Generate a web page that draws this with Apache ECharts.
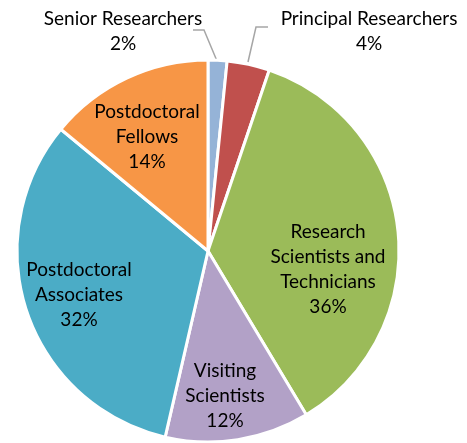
<!DOCTYPE html>
<html>
<head>
<meta charset="utf-8">
<script src="https://cdn.jsdelivr.net/npm/echarts@6/dist/echarts.min.js"></script>
<style>
  html, body { margin: 0; padding: 0; background: #fff; }
  #chart { width: 467px; height: 443px; }
</style>
</head>
<body>
<div id="chart"></div>
<script>
const categories = [
  'Senior Researchers',
  'Principal Researchers',
  'Research\nScientists and\nTechnicians',
  'Visiting\nScientists',
  'Postdoctoral\nAssociates',
  'Postdoctoral\nFellows'
]
const shares = [1.6, 3.6, 36.2, 12.2, 32.4, 14.0]
const colors = ['#95b3d7', '#c0504d', '#9bbb59', '#b2a1c7', '#4bacc6', '#f79646']

// label centres
const labelPos = [
  [123, 31],
  [369, 31],
  [328, 269],
  [225, 396],
  [79, 295],
  [147, 137]
]
const leaderLines = {
  0: [[217, 61], [204, 30], [193, 30]],
  1: [[248, 62], [256, 27], [268, 27]]
}

const chart = echarts.init(document.getElementById('chart'))

chart.setOption({
  animation: false,
  series: [
    {
      type: 'pie',
      center: [208, 251],
      radius: 191,
      startAngle: 90,
      clockwise: true,
      color: colors,
      itemStyle: { borderColor: '#fff', borderWidth: 3 },
      label: {
        position: 'inside',
        color: '#000',
        fontFamily: 'Lato',
        fontSize: 19,
        lineHeight: 25,
        align: 'center',
        overflow: 'none',
        formatter: (p) => p.name + '\n' + Math.round(p.percent) + '%'
      },
      labelLine: { show: false },
      labelLayout: (params) => {
        const pos = labelPos[params.dataIndex]
        const out = { x: pos[0], y: pos[1], align: 'center', verticalAlign: 'middle' }
        if (leaderLines[params.dataIndex]) out.labelLinePoints = leaderLines[params.dataIndex]
        return out
      },
      data: categories.map((name, i) => {
        const item = { name, value: shares[i] }
        if (leaderLines[i]) {
          item.label = { position: 'outside', overflow: 'none', width: 200 }
          item.labelLine = { show: true, lineStyle: { color: '#a6a6a6', width: 1.5 } }
        }
        return item
      })
    }
  ]
})
</script>
</body>
</html>
